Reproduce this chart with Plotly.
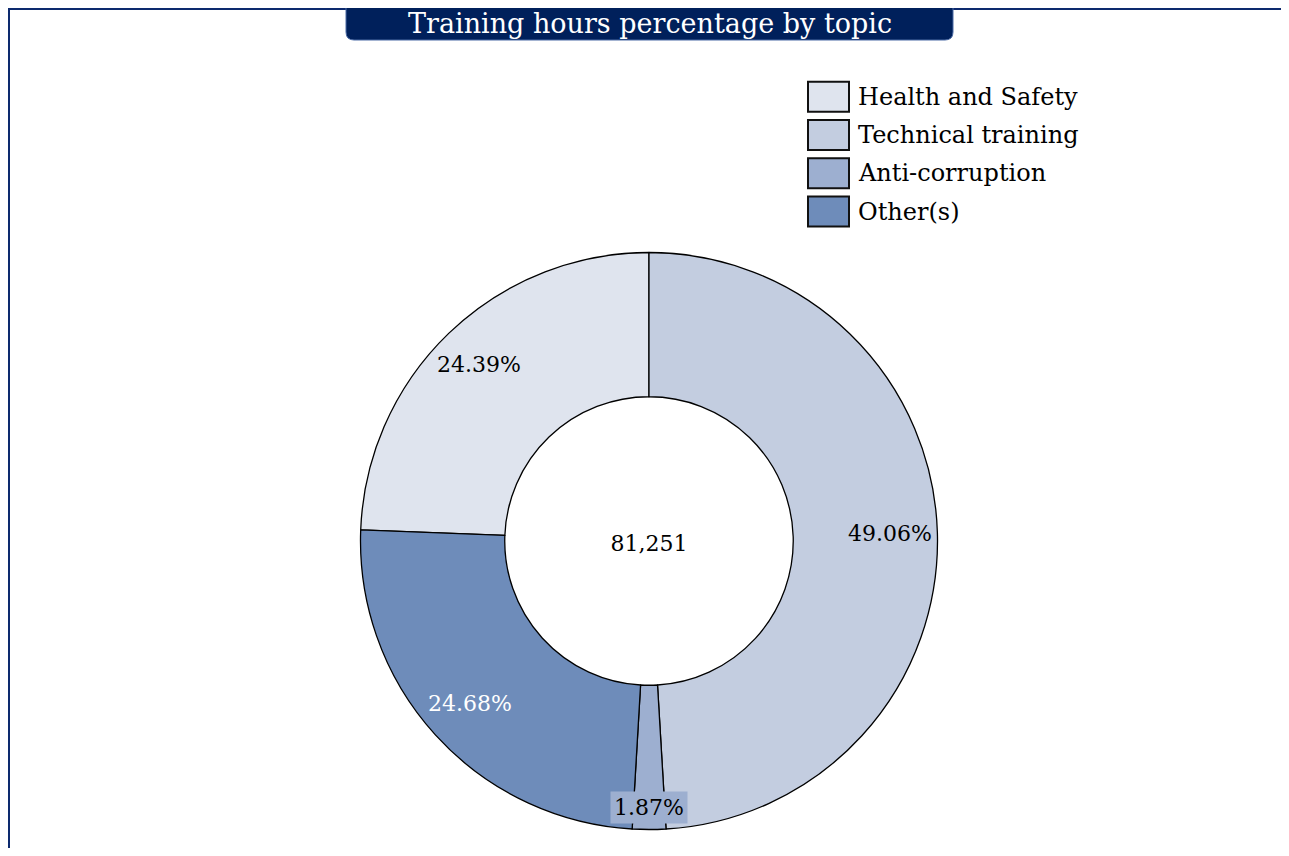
import math
import plotly.graph_objects as go

# ---- data ----
topics = ["Health and Safety", "Technical training", "Anti-corruption", "Other(s)"]
shares = [24.39, 49.06, 1.87, 24.68]
total_hours = 81251
chart_title = "Training hours percentage by topic"

# ---- styles ----
slice_colors = ["#DFE4EE", "#C3CDE0", "#9DAFD0", "#6E8CBA"]
text_colors = ["black", "black", "black", "white"]
label_bg = ["rgba(0,0,0,0)", "rgba(0,0,0,0)", "#9DAFD0", "rgba(0,0,0,0)"]
label_radius = [0.85, 0.835, 0.925, 0.84]   # fraction of outer radius
navy = "#00205B"
FONT = "DejaVu Serif"

W, H = 1273, 840


def px(x):
    return x / W


def py(y):
    return 1 - y / H


cx, cy, r = 641, 533, 288.5
rotation = -shares[0] * 3.6

fig = go.Figure(
    go.Pie(
        labels=topics,
        values=shares,
        sort=False,
        direction="clockwise",
        rotation=rotation,
        hole=0.5,
        marker=dict(colors=slice_colors, line=dict(color="black", width=1.3)),
        textinfo="none",
        title=dict(text=f"{total_hours:,}", position="middle center",
                   font=dict(family=FONT, size=22, color="black")),
        domain=dict(x=[px(cx - r), px(cx + r)], y=[py(cy + r), py(cy - r)]),
        showlegend=False,
    )
)

annotations = []

# percentage labels placed at each slice's mid-angle (computed from the data)
total = sum(shares)
start = rotation
for name, v, tc, bg, rf in zip(topics, shares, text_colors, label_bg, label_radius):
    span = v / total * 360
    mid = math.radians(start + span / 2)
    start += span
    lx = cx + rf * r * math.sin(mid)
    ly = cy - rf * r * math.cos(mid)
    annotations.append(dict(
        text=f"{v / total * 100:.2f}%", xref="paper", yref="paper",
        x=px(lx), y=py(ly), xanchor="center", yanchor="middle",
        showarrow=False, bgcolor=bg, borderpad=3,
        font=dict(family=FONT, size=22, color=tc)))

shapes = [
    dict(type="rect", xref="paper", yref="paper",
         x0=px(1), x1=px(W + 20), y0=py(H + 20), y1=py(1),
         line=dict(color="#0D2A6E", width=2), fillcolor="rgba(0,0,0,0)",
         layer="below"),
]

# title box (rounded bottom corners)
x0, x1, yt, yb, rr = 338, 945, -10, 32, 8
path = (
    f"M {px(x0)},{py(yt)} L {px(x0)},{py(yb - rr)} "
    f"Q {px(x0)},{py(yb)} {px(x0 + rr)},{py(yb)} "
    f"L {px(x1 - rr)},{py(yb)} Q {px(x1)},{py(yb)} {px(x1)},{py(yb - rr)} "
    f"L {px(x1)},{py(yt)} Z"
)
shapes.append(dict(type="path", xref="paper", yref="paper", path=path,
                   fillcolor=navy, line=dict(color="#4A6AA5", width=1)))
annotations.append(dict(
    text=chart_title, xref="paper", yref="paper",
    x=px((x0 + x1) / 2), y=py(-2), xanchor="center", yanchor="top",
    showarrow=False, font=dict(family=FONT, size=27, color="white")))

# legend: swatches + labels
leg_x, leg_y0, leg_step, sw_w, sw_h = 800, 73.7, 38.3, 41, 30
for i, (name, col) in enumerate(zip(topics, slice_colors)):
    top = leg_y0 + i * leg_step
    shapes.append(dict(type="rect", xref="paper", yref="paper",
                       x0=px(leg_x), x1=px(leg_x + sw_w),
                       y0=py(top + sw_h), y1=py(top),
                       fillcolor=col, line=dict(color="#111111", width=2)))
    annotations.append(dict(
        text=name, xref="paper", yref="paper",
        x=px(leg_x + sw_w + 7), y=py(top + sw_h / 2),
        xanchor="left", yanchor="middle", showarrow=False,
        font=dict(family=FONT, size=24, color="black")))

fig.update_layout(
    width=W,
    height=H,
    margin=dict(l=0, r=0, t=0, b=0),
    paper_bgcolor="white",
    font=dict(family=FONT, color="black"),
    showlegend=False,
    shapes=shapes,
    annotations=annotations,
)

fig.write_html("out.html")
